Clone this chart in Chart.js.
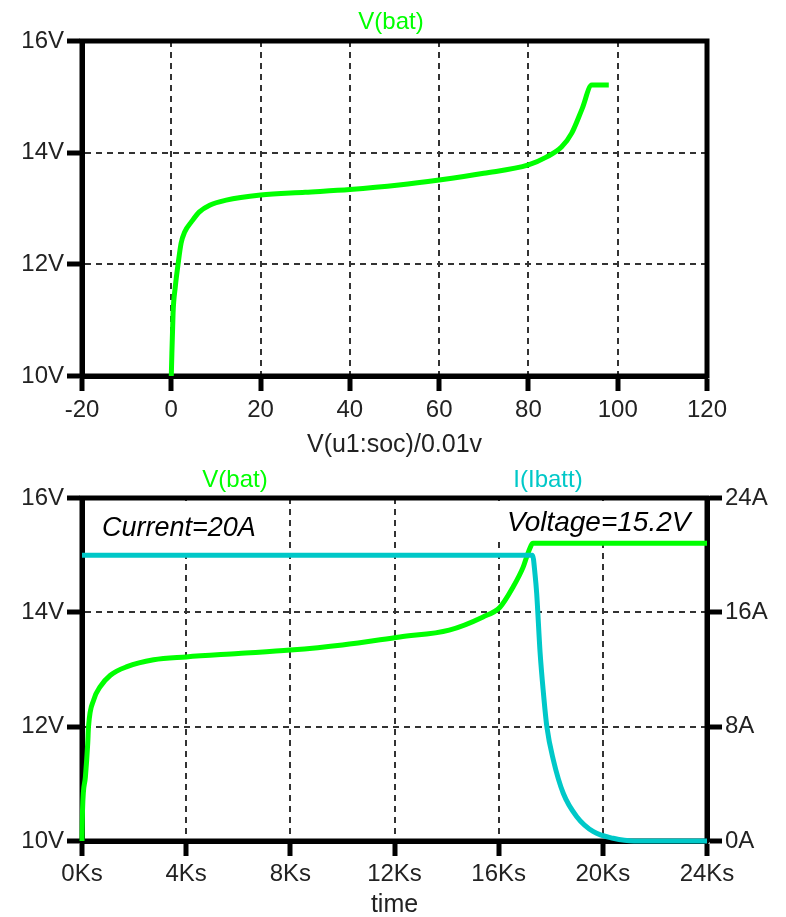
<!DOCTYPE html>
<html><head><meta charset="utf-8">
<script src="https://cdn.jsdelivr.net/npm/chart.js@4.4.1/dist/chart.umd.min.js"></script>
<style>
html,body{margin:0;padding:0;background:#fff;}
#wrap{position:relative;width:786px;height:917px;overflow:hidden;background:#fff;}
canvas{position:absolute;left:0;}
</style></head><body>
<div id="wrap">
<canvas id="c1" width="786" height="460" style="top:0px"></canvas>
<canvas id="c2" width="786" height="460" style="top:460px"></canvas>
</div>
<script>
// ---- Data ----
// Top chart: battery voltage vs state of charge
const socPercent  = [0, 0.4, 0.9, 1.5, 2.2, 3.0, 4.5, 6.3, 8.6, 12.3, 20, 30, 40, 51, 60, 70, 80, 84, 87.4, 89.7, 92, 94.2, 98];
const socVoltage  = [10.0, 11.13, 11.6, 11.99, 12.38, 12.58, 12.76, 12.94, 13.06, 13.15, 13.24, 13.29, 13.34, 13.42, 13.51, 13.63, 13.78, 13.92, 14.10, 14.35, 14.78, 15.21, 15.21];
const socTicks    = [-20, 0, 20, 40, 60, 80, 100, 120];

// Bottom chart: battery voltage and current vs time (Ks)
const timeKs      = [0, 0.02, 0.13, 0.22, 0.25, 0.45, 0.7, 1.09, 1.73, 2.75, 4, 6, 8, 10, 12.2, 14.1, 15.4, 16.05, 16.55, 16.94, 17.13, 17.32, 17.5, 24];
const timeVoltage = [10.0, 10.54, 11.12, 11.71, 12.0, 12.47, 12.70, 12.9, 13.05, 13.17, 13.22, 13.28, 13.34, 13.43, 13.57, 13.69, 13.92, 14.09, 14.44, 14.79, 15.04, 15.21, 15.21, 15.21];
const currentTimeKs = [0, 17.3, 17.4, 17.46, 17.59, 17.72, 17.85, 18.1, 18.48, 19.0, 19.64, 20.4, 21.2, 24];
const currentAmps   = [20, 20, 18.6, 17.33, 13.2, 10.33, 8.0, 5.67, 3.34, 1.7, 0.65, 0.19, 0.0, 0.0];
const timeTicks   = [0, 4, 8, 12, 16, 20, 24];
const voltTicks   = [10, 12, 14, 16];
const ampTicks    = [0, 8, 16, 24];

const GREEN = '#00ff00';
const CYAN  = '#00c8c8';
const FONT  = '"Liberation Sans", Arial, sans-serif';
const TXT   = '#222222';

Chart.defaults.font.family = FONT;

function pairs(xs, ys){ return xs.map((x,i)=>({x:x, y:ys[i]})); }

const framePlugin = {
  id: 'frame',
  beforeDatasetsDraw(chart){
    const a = chart.chartArea, ctx = chart.ctx;
    ctx.save();
    ctx.setLineDash([]);
    ctx.strokeStyle = '#000';
    ctx.lineWidth = 5;
    ctx.strokeRect(a.left, a.top, a.right - a.left, a.bottom - a.top);
    ctx.restore();
  }
};
const textPlugin = {
  id: 'textLabels',
  beforeDatasetsDraw(chart, args, opts){
    const ctx = chart.ctx;
    (opts.boxes || []).forEach(b => {
      ctx.save();
      ctx.fillStyle = '#ffffff';
      ctx.fillRect(b.x, b.y, b.w, b.h);
      ctx.restore();
    });
  },
  afterDraw(chart, args, opts){
    const ctx = chart.ctx;
    (opts.items || []).forEach(it => {
      ctx.save();
      ctx.font = it.font;
      ctx.fillStyle = it.color;
      ctx.textAlign = it.align || 'left';
      ctx.textBaseline = it.baseline || 'alphabetic';
      ctx.fillText(it.text, it.x, it.y);
      ctx.restore();
    });
  }
};

function gridOpts(){
  return {
    color: '#333333', lineWidth: 2,
    tickColor: '#000', tickWidth: 5, tickLength: 15, tickBorderDash: []
  };
}
function borderOpts(){
  return { display: true, color: '#000', width: 5, dash: [6, 5] };
}
function tickOpts(fmt, pad){
  return { color: TXT, font: {size: 24, family: FONT}, padding: pad, autoSkip: false, maxRotation: 0,
           callback: (v)=> fmt(v) };
}
function fixedTicks(list){ return (scale)=>{ scale.ticks = list.map(v=>({value:v})); }; }

new Chart(document.getElementById('c1'), {
  type: 'line',
  data: { datasets: [{
    label: 'V(bat)', data: pairs(socPercent, socVoltage),
    borderColor: GREEN, borderWidth: 5, pointRadius: 0, tension: 0,
    cubicInterpolationMode: 'monotone', clip: 6
  }]},
  options: {
    responsive: false, animation: false, devicePixelRatio: 1,
    layout: { padding: { top: 41, right: 79, left: 0, bottom: 0 } },
    plugins: {
      legend: {display: false}, tooltip: {enabled: false},
      textLabels: { items: [
        {text: 'V(bat)', x: 391, y: 22, color: GREEN, font: '24px ' + FONT, align: 'center', baseline: 'middle'}
      ]}
    },
    scales: {
      x: {
        type: 'linear', min: -20, max: 120,
        afterBuildTicks: fixedTicks(socTicks),
        afterFit(s){ s.height = 84; },
        grid: gridOpts(), border: borderOpts(),
        ticks: tickOpts(v => String(v), 5),
        title: { display: true, text: 'V(u1:soc)/0.01v', color: TXT, font: {size: 25, family: FONT}, padding: {top: 0, bottom: 0} }
      },
      y: {
        type: 'linear', min: 10, max: 16,
        afterBuildTicks: fixedTicks(voltTicks),
        afterFit(s){ s.width = 82; },
        grid: gridOpts(), border: borderOpts(),
        ticks: tickOpts(v => v + 'V', 3)
      }
    }
  },
  plugins: [framePlugin, textPlugin]
});

new Chart(document.getElementById('c2'), {
  type: 'line',
  data: { datasets: [
    { label: 'V(bat)', data: pairs(timeKs, timeVoltage), yAxisID: 'y', order: 2,
      borderColor: GREEN, borderWidth: 5, pointRadius: 0, tension: 0,
      cubicInterpolationMode: 'monotone', clip: 6 },
    { label: 'I(Ibatt)', data: pairs(currentTimeKs, currentAmps), yAxisID: 'y1', order: 1,
      borderColor: CYAN, borderWidth: 5, pointRadius: 0, tension: 0,
      cubicInterpolationMode: 'monotone', clip: 6 }
  ]},
  options: {
    responsive: false, animation: false, devicePixelRatio: 1,
    layout: { padding: { top: 38, right: 0, left: 0, bottom: 0 } },
    plugins: {
      legend: {display: false}, tooltip: {enabled: false},
      textLabels: {
        boxes: [
          {x: 85, y: 41, w: 192, h: 47},
          {x: 494, y: 41, w: 210, h: 39}
        ],
        items: [
          {text: 'V(bat)', x: 235, y: 20, color: GREEN, font: '24px ' + FONT, align: 'center', baseline: 'middle'},
          {text: 'I(Ibatt)', x: 548, y: 20, color: CYAN, font: '24px ' + FONT, align: 'center', baseline: 'middle'},
          {text: 'Current=20A', x: 102, y: 76, color: '#000', font: 'italic 27px ' + FONT},
          {text: 'Voltage=15.2V', x: 507, y: 71, color: '#000', font: 'italic 28px ' + FONT}
        ]
      }
    },
    scales: {
      x: {
        type: 'linear', min: 0, max: 24,
        afterBuildTicks: fixedTicks(timeTicks),
        afterFit(s){ s.height = 79; },
        grid: gridOpts(), border: borderOpts(),
        ticks: tickOpts(v => v + 'Ks', 4),
        title: { display: true, text: 'time', color: TXT, font: {size: 25, family: FONT}, padding: {top: 0, bottom: 0} }
      },
      y: {
        type: 'linear', position: 'left', min: 10, max: 16,
        afterBuildTicks: fixedTicks(voltTicks),
        afterFit(s){ s.width = 82; },
        grid: gridOpts(), border: borderOpts(),
        ticks: tickOpts(v => v + 'V', 3)
      },
      y1: {
        type: 'linear', position: 'right', min: 0, max: 24,
        afterBuildTicks: fixedTicks(ampTicks),
        afterFit(s){ s.width = 79; },
        grid: Object.assign(gridOpts(), {drawOnChartArea: false}),
        border: borderOpts(),
        ticks: tickOpts(v => v + 'A', 3)
      }
    }
  },
  plugins: [framePlugin, textPlugin]
});
</script>
</body></html>
